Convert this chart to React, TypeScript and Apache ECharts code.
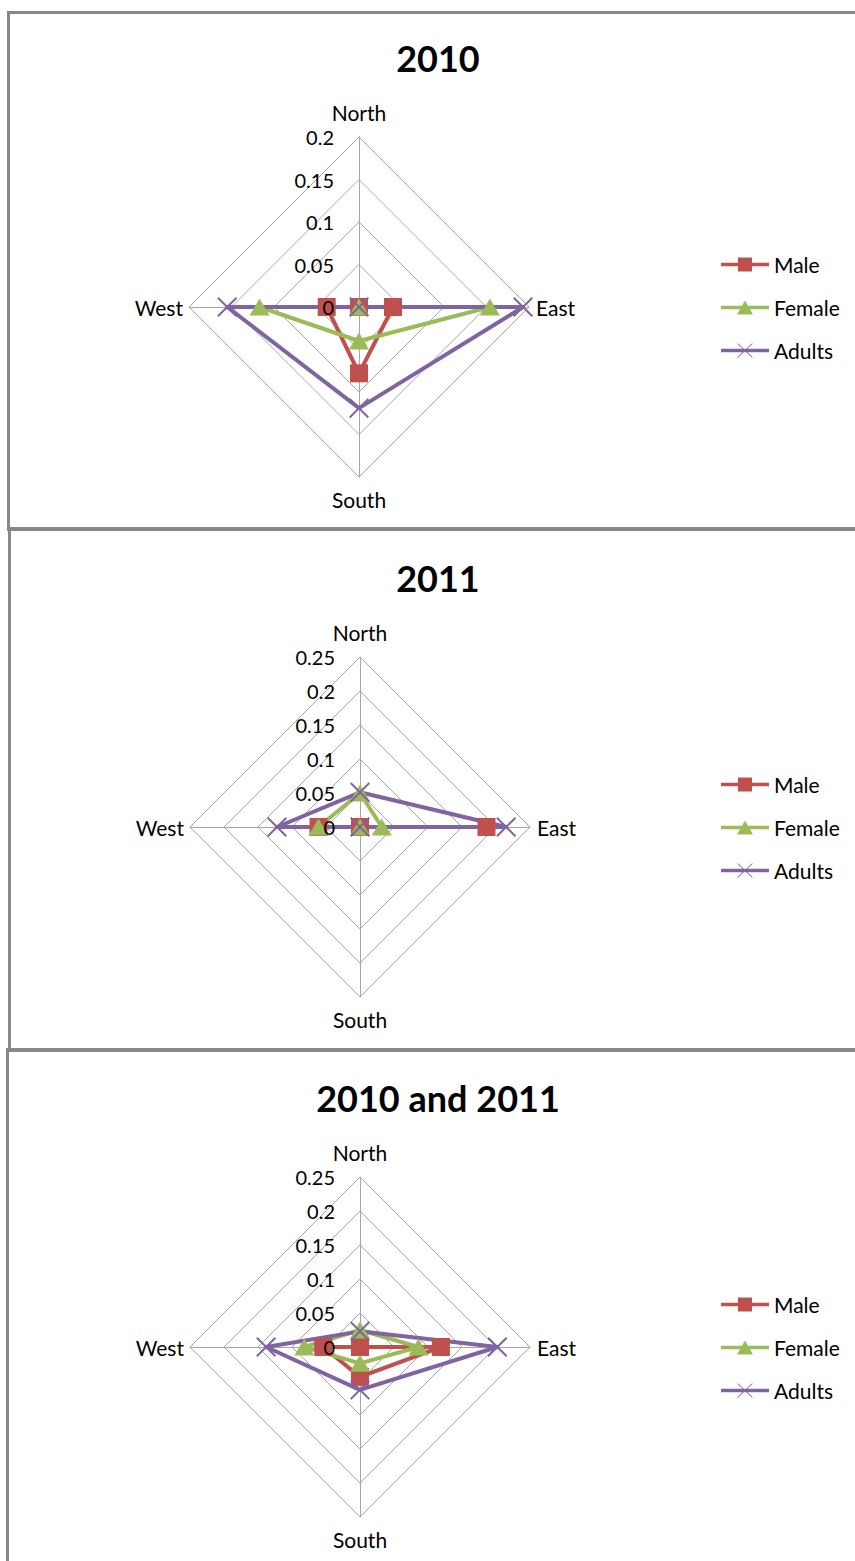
import React, { useEffect, useRef } from "react";
import * as echarts from "echarts";

// Categories (in the reference's clockwise order)
const directions = ["North", "East", "South", "West"];
const seriesNames = ["Male", "Female", "Adults"];
const panelTitles = ["2010", "2011", "2010 and 2011"];
const axisMax = [0.2, 0.25, 0.25];
const tickStep = 0.05;

// Values: [North, East, South, West]
const male2010 = [0, 0.04, 0.078, 0.038];
const female2010 = [0, 0.154, 0.04, 0.117];
const adults2010 = [0, 0.193, 0.119, 0.155];

const male2011 = [0, 0.186, 0, 0.061];
const female2011 = [0.05, 0.032, 0, 0.061];
const adults2011 = [0.051, 0.215, 0, 0.122];

const maleBoth = [0, 0.119, 0.044, 0.054];
const femaleBoth = [0.025, 0.086, 0.024, 0.082];
const adultsBoth = [0.023, 0.202, 0.063, 0.138];

const panelValues = [
  [male2010, female2010, adults2010],
  [male2011, female2011, adults2011],
  [maleBoth, femaleBoth, adultsBoth],
];

const COLORS = ["#C0504D", "#9BBB59", "#8064A2"];
const FONT = "Lato, 'Open Sans', sans-serif";
const GRID = "#a6a6a6";
const BORDER = "#878787";

const X_SYMBOL =
  "path://M0,0.7L0.7,0L10,9.3L9.3,10Z M9.3,0L10,0.7L0.7,10L0,9.3Z";
const SYMBOLS: any[] = ["rect", "triangle", X_SYMBOL];
const SYMBOL_SIZES: any[] = [18, [20, 17], 20];

const LEGEND_ICONS = [
  "path://M0,6.2L48,6.2L48,9.8L0,9.8Z M17,1L31,1L31,15L17,15Z",
  "path://M0,6.2L48,6.2L48,9.8L0,9.8Z M24,1L32,15L16,15Z",
  "path://M0,6.2L48,6.2L48,9.8L0,9.8Z M16,1L17.2,1L32,15L30.8,15Z M30.8,1L32,1L17.2,15L16,15Z",
];

// ECharts radar runs counter-clockwise: North, West, South, East
const ORDER = [0, 3, 2, 1];
// name gaps per direction index (North, East, South, West)
const NAME_GAPS = [14, 7, 12, 6];

const CENTERS = [
  [359, 307],
  [360, 827],
  [360, 1347],
];

export default function App() {
  const ref = useRef<HTMLDivElement>(null);

  useEffect(() => {
    if (!ref.current) return;
    const chart = echarts.init(ref.current, null, { renderer: "svg" });

    const baseRadar = CENTERS.map((c, i) => ({
      center: c,
      radius: 170,
      startAngle: 90,
      shape: "polygon",
      splitNumber: Math.round(axisMax[i] / tickStep),
      axisName: { color: "#000", fontSize: 21, fontFamily: FONT },
      axisLine: { show: true, lineStyle: { color: GRID, width: 1 } },
      splitLine: { show: true, lineStyle: { color: GRID, width: 1 } },
      splitArea: { show: false },
      axisTick: { show: false },
      axisLabel: { show: false },
      indicator: ORDER.map((k) => ({
        name: directions[k],
        min: 0,
        max: axisMax[i],
        nameGap: NAME_GAPS[k],
      })),
    }));

    // overlay radars carrying only the value labels of the North axis (drawn above marks)
    const labelRadar = CENTERS.map((c, i) => ({
      center: c,
      radius: 170,
      startAngle: 90,
      shape: "polygon",
      z: 10,
      splitNumber: Math.round(axisMax[i] / tickStep),
      axisName: { show: false },
      axisLine: { show: false },
      splitLine: { show: false },
      splitArea: { show: false },
      axisTick: { show: false },
      axisLabel: { show: false },
      indicator: ORDER.map((k, j) => {
        const ind: any = { name: directions[k], min: 0, max: axisMax[i] };
        if (j === 0) {
          ind.axisLabel = {
            show: true,
            color: "#000",
            fontSize: 20,
            fontFamily: FONT,
            margin: 25,
          };
        }
        return ind;
      }),
    }));

    const series = panelValues.map((vals, i) => ({
      type: "radar",
      radarIndex: i,
      z: 2,
      data: vals.map((v, s) => ({
        name: seriesNames[s],
        value: ORDER.map((k) => v[k]),
        symbol: SYMBOLS[s],
        symbolSize: SYMBOL_SIZES[s],
        lineStyle: { color: COLORS[s], width: 4 },
        itemStyle: { color: COLORS[s] },
      })),
    }));

    const legend = CENTERS.map((c) => ({
      orient: "vertical",
      left: 721,
      top: c[1] - 53,
      itemWidth: 48,
      itemHeight: 16,
      itemGap: 22,
      selectedMode: false,
      padding: 0,
      textStyle: { color: "#000", fontSize: 21, fontFamily: FONT },
      itemStyle: { borderWidth: 0 },
      data: seriesNames.map((n, s) => ({ name: n, icon: LEGEND_ICONS[s] })),
    }));

    const title = CENTERS.map((c, i) => ({
      text: panelTitles[i],
      left: 438,
      top: c[1] - 267,
      textAlign: "center",
      textVerticalAlign: "top",
      padding: 0,
      textStyle: {
        color: "#000",
        fontSize: 36,
        fontWeight: "bold",
        fontFamily: FONT,
      },
    }));

    const borders = [
      { x: 7, y: 11, width: 848, height: 3 },
      { x: 7, y: 11, width: 3, height: 517 },
      { x: 7, y: 527, width: 848, height: 4 },
      { x: 8, y: 527, width: 3, height: 523 },
      { x: 7, y: 1048, width: 848, height: 4 },
      { x: 6, y: 1048, width: 3, height: 513 },
    ].map((shape) => ({
      type: "rect",
      shape,
      style: { fill: BORDER },
      silent: true,
    }));

    chart.setOption({
      animation: false,
      backgroundColor: "#ffffff",
      title,
      legend,
      radar: [...baseRadar, ...labelRadar],
      series,
      graphic: { elements: borders },
    });

    return () => chart.dispose();
  }, []);

  return (
    <div
      ref={ref}
      style={{
        position: "absolute",
        left: 0,
        top: 0,
        width: 855,
        height: 1561,
      }}
    />
  );
}
